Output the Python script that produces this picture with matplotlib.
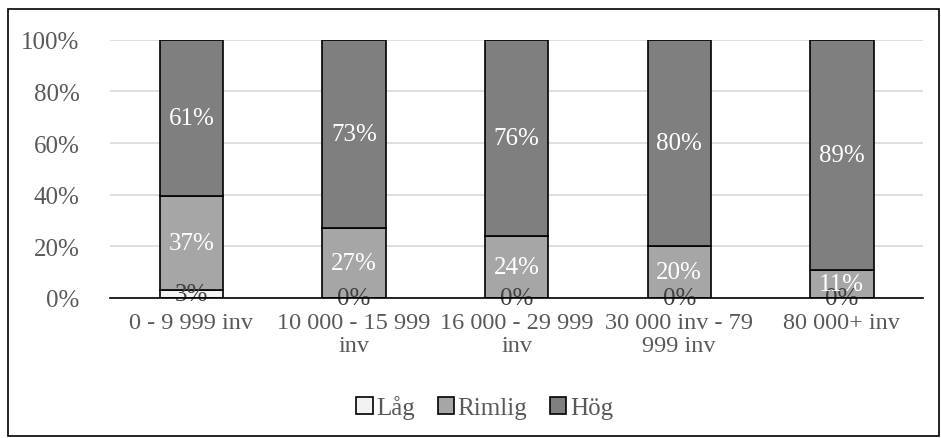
import matplotlib.pyplot as plt
from matplotlib.patches import Rectangle
import numpy as np

categories = ["0 - 9 999 inv", "10 000 - 15 999\ninv", "16 000 - 29 999\ninv",
              "30 000 inv - 79\n999 inv", "80 000+ inv"]
lag = [3, 0, 0, 0, 0]
rimlig = [37, 27, 24, 20, 11]
hog = [61, 73, 76, 80, 89]

series = [("Låg", lag, "#f2f2f2", "#404040"),
          ("Rimlig", rimlig, "#a6a6a6", "white"),
          ("Hög", hog, "#7f7f7f", "white")]

plt.rcParams['font.family'] = ['Liberation Serif', 'DejaVu Serif']
txt = "#595959"
fs = 18

fig = plt.figure(figsize=(9.41, 4.39), dpi=100)
ax = fig.add_axes([0.117, 0.319, 0.864, 0.588])

x = np.arange(len(categories))
totals = np.array(lag) + np.array(rimlig) + np.array(hog)
bottom = np.zeros(len(categories))
for name, vals, col, lab_col in series:
    h = np.array(vals) / totals * 100
    ax.bar(x, h, 0.39, bottom=bottom, color=col, edgecolor="black",
           linewidth=1.2, label=name, zorder=3)
    for xi, b, hi, v in zip(x, bottom, h, vals):
        ax.text(xi, b + hi / 2, f"{v}%", ha="center", va="center",
                fontsize=fs, color=lab_col, zorder=4)
    bottom += h

ax.set_ylim(0, 100)
ax.set_xlim(-0.5, len(categories) - 0.5)
ax.set_yticks(range(0, 101, 20))
ax.set_yticklabels([f"{t}%" for t in range(0, 101, 20)])
ax.set_xticks(x)
ax.set_xticklabels(categories, linespacing=1.15)
ax.tick_params(axis="both", length=0, labelsize=fs, labelcolor=txt)
ax.tick_params(axis="x", labelsize=17.5, pad=10)
ax.tick_params(axis="y", pad=22)
ax.grid(axis="y", color="#d9d9d9", linewidth=1.2, zorder=0)
for s in ["top", "right", "left"]:
    ax.spines[s].set_visible(False)
ax.spines["bottom"].set_color("black")
ax.spines["bottom"].set_linewidth(1.2)
ax.spines["bottom"].set_zorder(5)

leg = fig.legend(loc="center", bbox_to_anchor=(0.515, 0.07), ncol=3, frameon=False,
                 fontsize=fs, handlelength=0.65, handleheight=0.65,
                 handletextpad=0.15, columnspacing=0.9)
for t in leg.get_texts():
    t.set_color(txt)

fig.patches.append(Rectangle((8 / 941, 2 / 439), 931 / 941, 427 / 439,
                             transform=fig.transFigure, fill=False,
                             edgecolor="black", linewidth=1.2))

fig.savefig("out.png", dpi=100)
